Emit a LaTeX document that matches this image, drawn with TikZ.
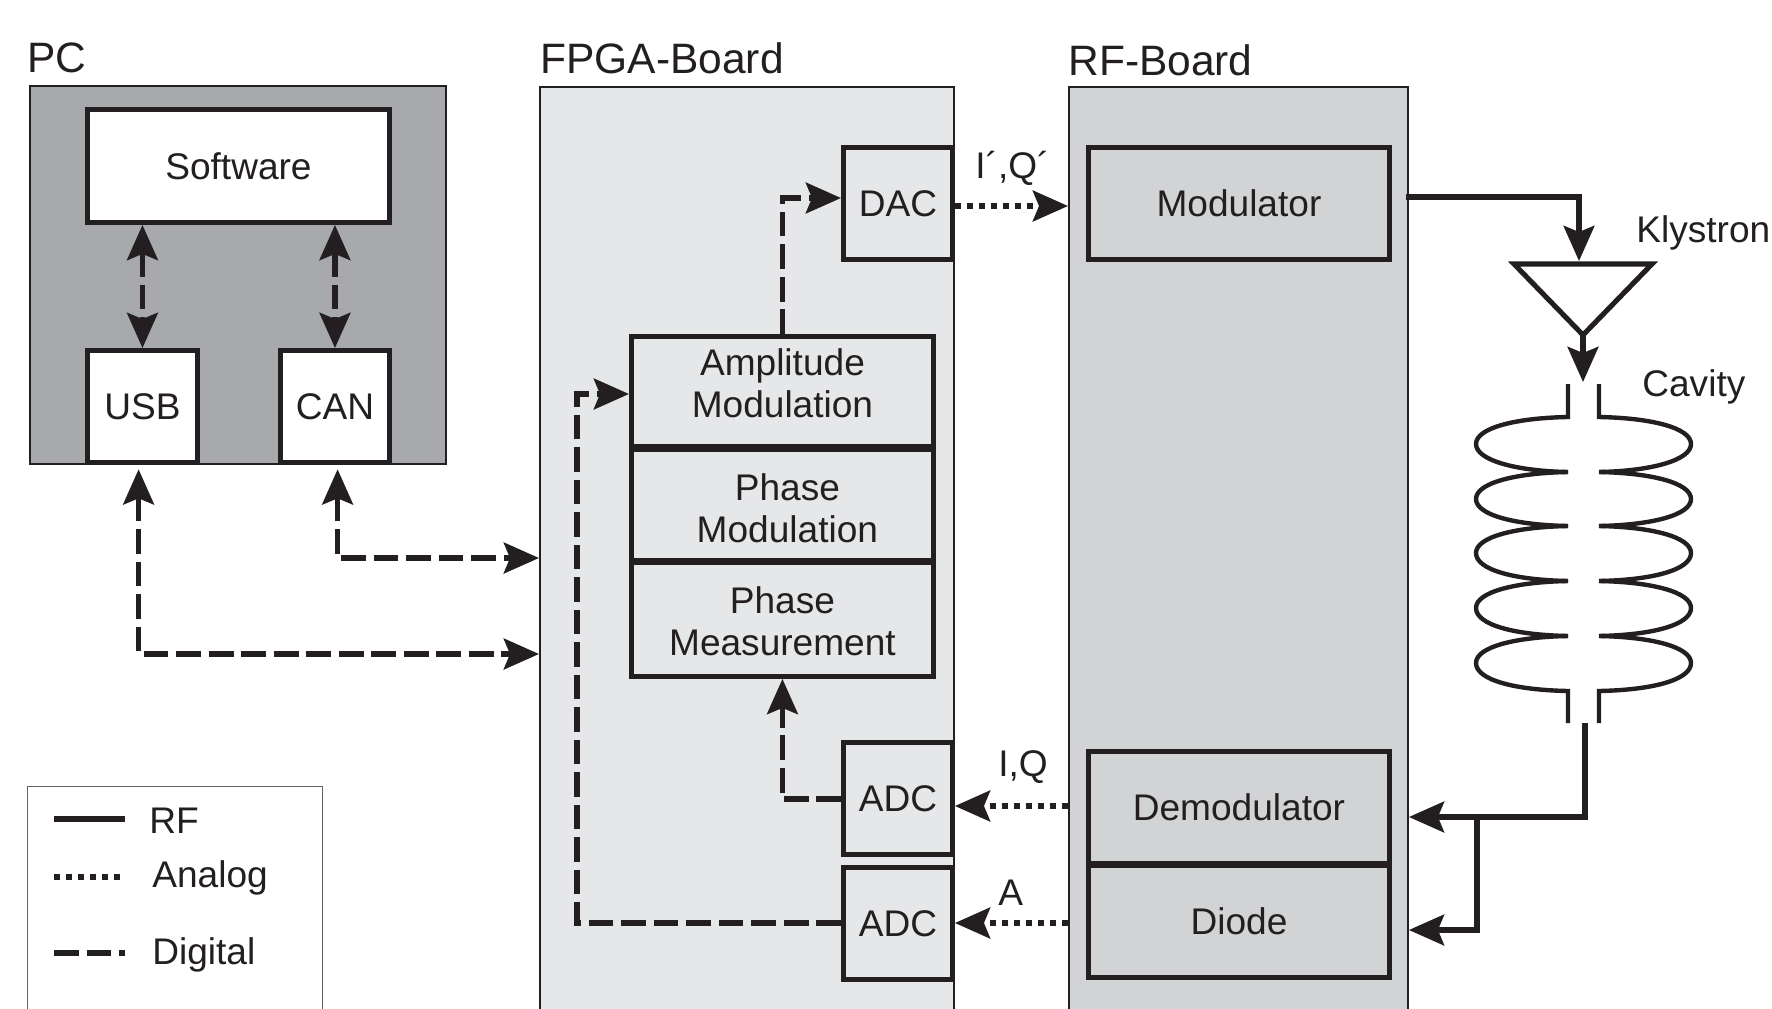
\documentclass[tikz,border=0pt]{standalone}
\usepackage{fontspec}
\setmainfont{Liberation Sans}
\usetikzlibrary{arrows.meta}
\definecolor{inkc}{HTML}{231F20}
\definecolor{pcgray}{HTML}{A7A9AC}
\definecolor{fpgagray}{HTML}{E6E7E8}
\definecolor{rfgray}{HTML}{D1D3D4}
\tikzset{
  bigtip/.tip={Stealth[length=20pt,width=17.5pt,inset=3.5pt]},
  sized/.style 2 args={minimum width=(#1-5)*0.02cm,minimum height=(#2-5)*0.02cm},
  boardbox/.style={draw=inkc,line width=1.1pt,anchor=north west,inner sep=0pt},
  blockbox/.style={draw=inkc,line width=2.8pt,anchor=north west,inner sep=0pt,text=inkc,align=center,font=\fontsize{21.1}{23.8}\selectfont},
  headlabel/.style={anchor=west,inner sep=0pt,text=inkc,font=\fontsize{24.2}{28}\selectfont},
  textlabel/.style={anchor=west,inner sep=0pt,text=inkc,font=\fontsize{21.1}{25}\selectfont},
  rfline/.style={draw=inkc,line width=2.9pt},
  cavline/.style={draw=inkc,line width=2.5pt},
  analogline/.style={draw=inkc,line width=3.2pt,dash pattern=on 3.4pt off 3.4pt},
  digitalline/.style={draw=inkc,line width=3pt,dash pattern=on 14pt off 4.5pt}
}
\begin{document}
\begin{tikzpicture}[x=0.02cm,y=-0.02cm]
        \useasboundingbox (0,0) rectangle (1772,1008);
        \clip (0,0) rectangle (1772,1008);
        % boards
        \node [boardbox,fill=pcgray,sized={421}{383}] (pc) at (29,85) {};
        \node [boardbox,fill=fpgagray,sized={419}{960}] (fpga) at (539,86) {};
        \node [boardbox,fill=rfgray,sized={344}{960}] (rf) at (1068,86) {};
        \node [boardbox,draw=inkc!70,line width=0.7pt,sized={300}{260}] (legend) at (27,786) {};
        \node [headlabel] (pclabel) at (27,58) {PC};
        \node [headlabel] (fpgalabel) at (540,58) {FPGA-Board};
        \node [headlabel] (rflabel) at (1068,60) {RF-Board};
        % PC
        \node [blockbox,fill=white,sized={307}{118}] (soft) at (85,107) {Software};
        \node [blockbox,fill=white,sized={115}{117}] (usb) at (85,348) {USB};
        \node [blockbox,fill=white,sized={114}{117}] (can) at (278,348) {CAN};
        % FPGA
        \node [blockbox,fill=fpgagray,sized={114}{117}] (dac) at (841,145) {DAC};
        \node [blockbox,sized={307}{115}] (amp) at (629,334) {Amplitude\\Modulation\\[-13.8pt]\mbox{}};
        \node [blockbox,sized={307}{116}] (phmod) at (629,447) {\rule{0pt}{19.2pt}\hspace*{5.6pt}Phase\\\hspace*{5.6pt}Modulation};
        \node [blockbox,sized={307}{119}] (phmeas) at (629,560) {\rule{0pt}{17.5pt}Phase\\Measurement};
        \node [blockbox,fill=fpgagray,sized={114}{117}] (adci) at (841,740) {ADC};
        \node [blockbox,fill=fpgagray,sized={114}{117}] (adca) at (841,865) {ADC};
        % RF
        \node [blockbox,sized={306}{117}] (mod) at (1086,145) {Modulator};
        \node [blockbox,sized={306}{117}] (demod) at (1086,749) {Demodulator};
        \node [blockbox,sized={306}{117}] (diode) at (1086,863) {Diode};
        % klystron
        \draw [rfline,fill=white] (1514,264) -- (1652,264) -- (1583,335) -- cycle;
        \coordinate (klyin) at (1579,261);
        \coordinate (klyout) at (1583,335);
        \coordinate (modout) at (1406,197);
        \node [textlabel] (klylabel) at (1636,233) {Klystron};
        \node [textlabel] (cavlabel) at (1642,387) {Cavity};
        % cavity, left side
        \draw [cavline] (1568,384) -- (1568,417) .. controls (1515,418) and (1476,428) .. (1476,444) .. controls (1476,460) and (1515,471) .. (1568,472);
        \draw [cavline] (1568,472) .. controls (1515,473) and (1476,483) .. (1476,499) .. controls (1476,515) and (1515,525) .. (1568,526);
        \draw [cavline] (1568,526) .. controls (1515,527) and (1476,537) .. (1476,553) .. controls (1476,570) and (1515,580) .. (1568,581);
        \draw [cavline] (1568,581) .. controls (1515,582) and (1476,592) .. (1476,608) .. controls (1476,625) and (1515,635) .. (1568,636);
        \draw [cavline] (1568,636) .. controls (1515,637) and (1476,647) .. (1476,663) .. controls (1476,680) and (1515,690) .. (1568,691) -- (1568,723);
        % cavity, right side
        \draw [cavline] (1599,384) -- (1599,417) .. controls (1652,418) and (1691,428) .. (1691,444) .. controls (1691,460) and (1652,471) .. (1599,472);
        \draw [cavline] (1599,472) .. controls (1652,473) and (1691,483) .. (1691,499) .. controls (1691,515) and (1652,525) .. (1599,526);
        \draw [cavline] (1599,526) .. controls (1652,527) and (1691,537) .. (1691,553) .. controls (1691,570) and (1652,580) .. (1599,581);
        \draw [cavline] (1599,581) .. controls (1652,582) and (1691,592) .. (1691,608) .. controls (1691,625) and (1652,635) .. (1599,636);
        \draw [cavline] (1599,636) .. controls (1652,637) and (1691,647) .. (1691,663) .. controls (1691,680) and (1652,690) .. (1599,691) -- (1599,723);
        \coordinate (cavin) at (1583,382);
        \coordinate (cavout) at (1585,723);
        \coordinate (split) at (1477,817);
        % RF lines
        \draw [rfline,-bigtip] (modout) -| (klyin);
        \draw [rfline,-bigtip] (klyout) -- (cavin);
        \draw [rfline,-bigtip] (cavout) |- (rf.east |- 0,817);
        \draw [rfline,-bigtip] (split) |- (rf.east |- 0,930);
        % digital lines
        \draw [digitalline,bigtip-bigtip] (soft.south -| usb.north) -- (usb.north);
        \draw [digitalline,bigtip-bigtip] (soft.south -| can.north) -- (can.north);
        \draw [digitalline,bigtip-bigtip] ([xshift=-2.2pt,yshift=-2.5pt]usb.south) |- (fpga.west |- 0,654);
        \draw [digitalline,bigtip-bigtip] ([xshift=1.5pt,yshift=-2.5pt]can.south) |- (fpga.west |- 0,558);
        \draw [digitalline,-bigtip] (amp.north) |- (dac.west |- 0,198);
        \draw [digitalline,-bigtip] (adci.west |- 0,799) -| (phmeas.south);
        \draw [digitalline,-bigtip] (adca.west |- 0,923) -| (577,394) -- (amp.west |- 0,394);
        % analog lines
        \draw [analogline,-bigtip] (dac.east |- 0,206) -- (rf.west |- 0,206);
        \draw [analogline,-bigtip] (rf.west |- 0,806) -- (adci.east |- 0,806);
        \draw [analogline,-bigtip] (rf.west |- 0,923) -- (adca.east |- 0,923);
        \node [textlabel] (iqout) at (975,168) {I´,Q´};
        \node [textlabel] (iqin) at (998,767) {I,Q};
        \node [textlabel] (alabel) at (998,893) {A};
        % legend
        \coordinate (rfa) at (54,819);
        \coordinate (rfb) at (125,819);
        \coordinate (ana) at (54,877);
        \coordinate (anb) at (125,877);
        \coordinate (diga) at (54,953);
        \coordinate (digb) at (125,953);
        \draw [rfline] (rfa) -- (rfb);
        \draw [analogline] (ana) -- (anb);
        \draw [digitalline] (diga) -- (digb);
        \node [textlabel] (rftext) at (149,821) {RF};
        \node [textlabel] (antext) at (152,878) {Analog};
        \node [textlabel] (digtext) at (152,955) {Digital};
\end{tikzpicture}
\end{document}
